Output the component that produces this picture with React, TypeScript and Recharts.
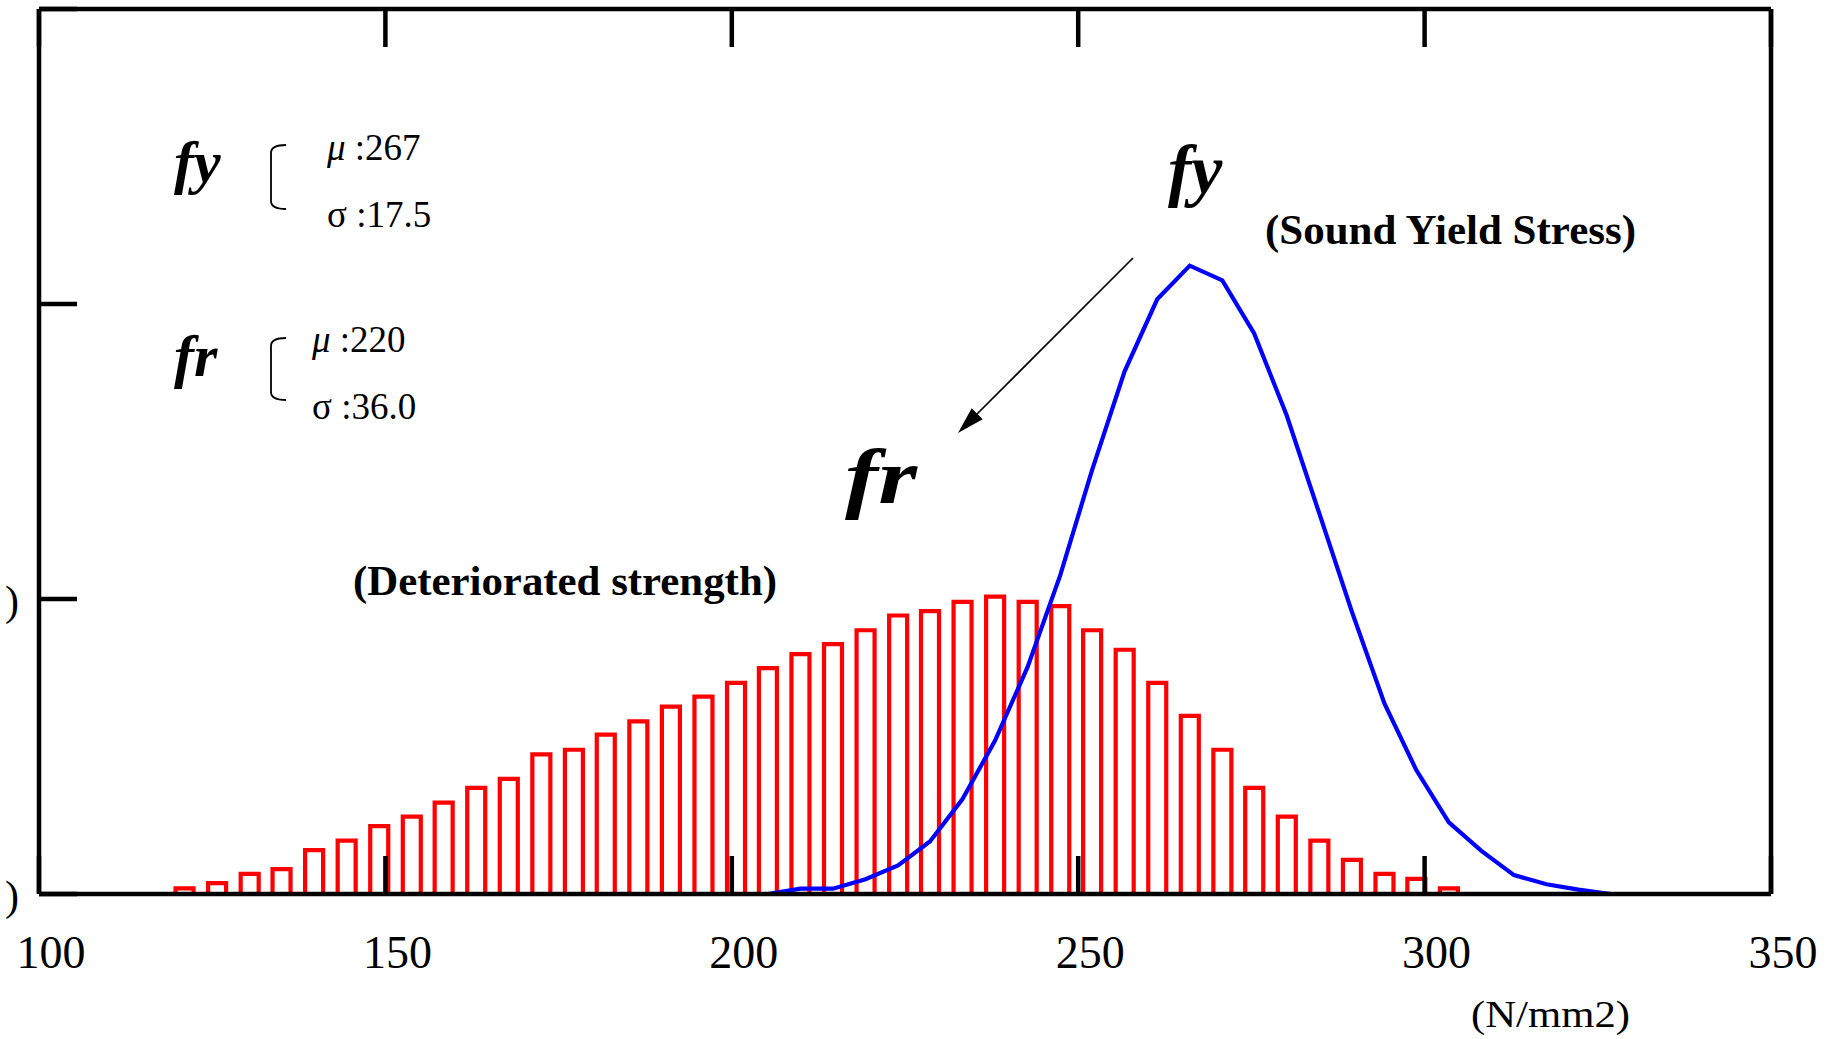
import { ComposedChart, Bar, Line, XAxis, YAxis } from 'recharts'

const W = 1845
const H = 1039
const SERIF = "'Liberation Serif', 'Times New Roman', serif"
const RED = '#ff0000'
const BLUE = '#0000ff'

// histogram of deteriorated strength fr (bin centres, N/mm2)
const BIN_X = [
  121.0, 125.7, 130.4, 135.0, 139.7, 144.4, 149.1, 153.8, 158.4, 163.1,
  167.8, 172.5, 177.2, 181.8, 186.5, 191.2, 195.9, 200.6, 205.2, 209.9,
  214.6, 219.3, 224.0, 228.6, 233.3, 238.0, 242.7, 247.4, 252.0, 256.7,
  261.4, 266.1, 270.8, 275.4, 280.1, 284.8, 289.5, 294.2, 298.8, 303.5,
]
const FR_HIST = [
  0.019, 0.037, 0.068, 0.084, 0.149, 0.181, 0.230, 0.262, 0.310, 0.360,
  0.390, 0.473, 0.489, 0.540, 0.585, 0.635, 0.669, 0.716, 0.766, 0.813,
  0.847, 0.894, 0.944, 0.959, 0.990, 1.008, 0.990, 0.976, 0.894, 0.828,
  0.716, 0.604, 0.489, 0.360, 0.262, 0.181, 0.116, 0.068, 0.051, 0.019,
]

// sound yield stress fy curve vertices
const FY_X = [
  111.6, 205.2, 209.9, 214.6, 219.3, 224.0, 228.6, 233.3, 238.0, 242.7,
  247.4, 252.0, 256.7, 261.4, 266.1, 270.8, 275.4, 280.1, 284.8, 289.5,
  294.2, 298.8, 303.5, 308.2, 312.9, 317.6, 322.2, 326.9, 345.6,
]
const FY_PDF = [
  0, 0, 0.018, 0.018, 0.05, 0.097, 0.178, 0.322, 0.52, 0.77,
  1.08, 1.437, 1.772, 2.016, 2.13, 2.08, 1.9, 1.622, 1.29, 0.957,
  0.646, 0.42, 0.243, 0.146, 0.064, 0.033, 0.015, 0, 0,
]

const X_TICKS = [100, 150, 200, 250, 300, 350]
const Y_TICKS = [0, 1, 2, 3]

function buildRows() {
  const m = new Map<number, any>()
  BIN_X.forEach((x, i) => m.set(x, { x, fr: FR_HIST[i] }))
  FY_X.forEach((x, i) => {
    const r = m.get(x) ?? { x }
    r.fy = FY_PDF[i]
    m.set(x, r)
  })
  return Array.from(m.values()).sort((a, b) => a.x - b.x)
}
const rows = buildRows()

const axisStyle = { stroke: '#000', strokeWidth: 4.5 }

function BlankTick() { return <g /> }

function StressTick({ x, y, payload }: any) {
  return (
    <text x={x + 12} y={y} textAnchor="middle" fontSize={46} fontFamily={SERIF} fill="#000">
      {payload.value}
    </text>
  )
}

function ParenTick({ x, y, payload }: any) {
  if (payload.value > 1) return <g />
  return <text x={x} y={y + 16} textAnchor="end" fontSize={42} fontFamily={SERIF} fill="#000">)</text>
}

// open-bottom outline like the original histogram
function OpenBar({ x, y, width, height }: any) {
  if (!(height > 0) || !isFinite(y)) return <g />
  return (
    <path d={`M${x},${y + height} V${y} H${x + width} V${y + height}`}
      fill="none" stroke={RED} strokeWidth={4.2} />
  )
}

function Notes() {
  return (
    <svg width={W} height={H} fontFamily={SERIF}
      style={{ position: 'absolute', left: 0, top: 0, pointerEvents: 'none' }}>
      {/* parameter boxes */}
      <text x={174} y={182} fontSize={60} fontWeight="bold" fontStyle="italic">fy</text>
      <path d="M286,145 Q271,145 271,153 L271,201 Q271,209 286,209" fill="none" stroke="#000" strokeWidth={1.8} />
      <text x={327} y={160} fontSize={37}><tspan fontStyle="italic">μ</tspan> :267</text>
      <text x={327} y={227} fontSize={37}>σ :17.5</text>

      <text x={174} y={376} fontSize={60} fontWeight="bold" fontStyle="italic">fr</text>
      <path d="M286,338 Q271,338 271,346 L271,392 Q271,400 286,400" fill="none" stroke="#000" strokeWidth={1.8} />
      <text x={312} y={352} fontSize={37}><tspan fontStyle="italic">μ</tspan> :220</text>
      <text x={312} y={419} fontSize={37}>σ :36.0</text>

      {/* curve labels */}
      <text x={1168} y={193} fontSize={70} fontWeight="bold" fontStyle="italic">fy</text>
      <text x={1265} y={244} fontSize={42} fontWeight="bold" textLength={371} lengthAdjust="spacingAndGlyphs">(Sound Yield Stress)</text>
      <text x={845} y={503} fontSize={78} fontWeight="bold" fontStyle="italic" textLength={72} lengthAdjust="spacingAndGlyphs">fr</text>
      <text x={353} y={595} fontSize={42} fontWeight="bold" textLength={424} lengthAdjust="spacingAndGlyphs">(Deteriorated strength)</text>

      {/* fy -> fr arrow */}
      <line x1={1133} y1={258} x2={977} y2={414} stroke="#000" strokeWidth={1.7} />
      <polygon points="958,433 971.7,408.3 982.7,419.3" fill="#000" />

      <text x={1471} y={1027} fontSize={38} textLength={159} lengthAdjust="spacingAndGlyphs">(N/mm2)</text>
    </svg>
  )
}

export default function App() {
  return (
    <div style={{ position: 'relative', width: W, height: H, background: '#fff' }}>
      <style>{'body{margin:0;background:#fff}'}</style>
      <ComposedChart width={W} height={H} data={rows} margin={{ top: 0, right: 0, bottom: 0, left: 0 }}>
        <XAxis xAxisId="b" dataKey="x" type="number" domain={[100, 350]} ticks={X_TICKS} interval={0}
          height={145} tickSize={-38} tickMargin={112}
          axisLine={axisStyle} tickLine={axisStyle} tick={<StressTick />} />
        <XAxis xAxisId="t" orientation="top" dataKey="x" type="number" domain={[100, 350]} ticks={X_TICKS} interval={0}
          height={9} tickSize={-38}
          axisLine={axisStyle} tickLine={axisStyle} tick={<BlankTick />} />
        <YAxis yAxisId="l" type="number" domain={[0, 3]} ticks={Y_TICKS} interval={0}
          width={39} tickSize={-38} tickMargin={58}
          axisLine={axisStyle} tickLine={axisStyle} tick={<ParenTick />} />
        <YAxis yAxisId="r" orientation="right" type="number" domain={[0, 3]} ticks={Y_TICKS} interval={0}
          width={74} tickSize={-38}
          axisLine={axisStyle} tickLine={axisStyle} tick={<BlankTick />} />
        <Bar xAxisId="b" yAxisId="l" dataKey="fr" barSize={18} fill="none" stroke={RED}
          shape={<OpenBar />} isAnimationActive={false} />
        <Line xAxisId="b" yAxisId="l" dataKey="fy" type="linear" stroke={BLUE} strokeWidth={4.2}
          dot={false} activeDot={false} connectNulls isAnimationActive={false} />
      </ComposedChart>
      <Notes />
    </div>
  )
}
